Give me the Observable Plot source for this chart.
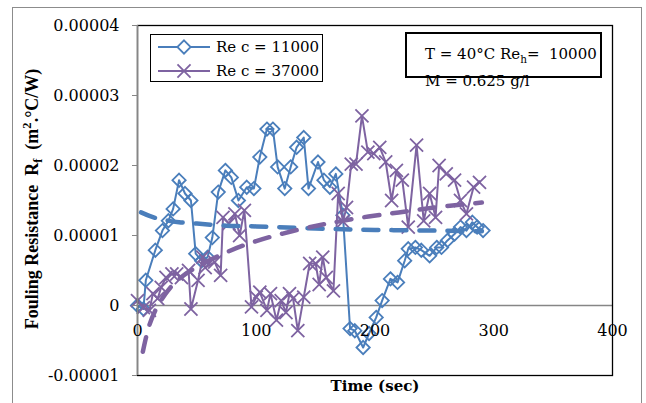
<!DOCTYPE html>
<html>
<head>
<meta charset="utf-8">
<script src="https://cdn.jsdelivr.net/npm/d3@7"></script>
<script src="https://cdn.jsdelivr.net/npm/@observablehq/plot@0.6"></script>
<style>
  html, body { margin: 0; padding: 0; background: #fff; }
  #wrap { position: relative; width: 646px; height: 403px; overflow: hidden; font-family: "DejaVu Serif", serif; }
  #outer { position: absolute; left: 12px; top: 7px; width: 630px; height: 420px; border: 1.5px solid #8c8c8c; box-sizing: border-box; pointer-events: none; }
  #ytitle { position: absolute; left: 33px; top: 199px; transform: translate(-50%, -50%) rotate(-90deg); white-space: nowrap; font-family: "Liberation Serif", serif; font-weight: bold; font-size: 18px; }
  #legend { position: absolute; left: 150px; top: 34px; width: 173px; height: 48px; border: 1.5px solid #000; box-sizing: border-box; background: #fff; }
  .lrow { position: absolute; left: 6px; height: 20px; display: flex; align-items: center; font-size: 15px; white-space: nowrap; }
  .lrow svg { margin-right: 5px; }
  #note { position: absolute; left: 405px; top: 32px; width: 197px; height: 46px; border: 2px solid #000; box-sizing: border-box; background: #fff; }
  .nline { position: absolute; left: 425px; font-size: 15px; white-space: nowrap; line-height: 1; }
  sub { font-size: 70%; }
</style>
</head>
<body>
<div id="wrap">
  <div id="chart"></div>
  <div id="outer"></div>
  <div id="ytitle">Fouling Resistance&nbsp; R<sub>f</sub>&nbsp; (m<sup style="font-size:70%">2</sup>.°C/W)</div>
  <div id="legend"></div>
  <div id="note"></div>
  <div class="nline" style="top:47px">T = 40°C Re<sub>h</sub>=&nbsp; 10000</div>
  <div class="nline" style="top:74px">M = 0.625 g/l</div>
</div>
<script>
// ---- Data ----
const seriesNames = ["Re c = 11000", "Re c = 37000"];

const blueTime = [0, 5, 7, 15, 21, 26, 30, 35, 40, 45, 49, 54, 59, 63, 68, 74, 79, 85, 92, 98,
  103, 109, 114, 118, 124, 129, 134, 140, 144, 152, 157, 162, 167, 173, 179, 183, 190, 195, 201, 206,
  213, 219, 225, 228, 234, 239, 246, 252, 256, 261, 267, 272, 277, 282, 286, 291];
const blueValue = [0, -0.05e-5, 0.36e-5, 0.79e-5, 1.07e-5, 1.21e-5, 1.38e-5, 1.79e-5, 1.6e-5, 1.5e-5,
  0.74e-5, 0.64e-5, 0.69e-5, 0.97e-5, 1.62e-5, 1.93e-5, 1.83e-5, 1.5e-5, 1.69e-5, 1.67e-5,
  2.12e-5, 2.52e-5, 2.52e-5, 1.98e-5, 1.67e-5, 1.98e-5, 2.26e-5, 2.4e-5, 1.67e-5, 2.05e-5,
  1.79e-5, 1.69e-5, 1.88e-5, 1.29e-5, -0.33e-5, -0.36e-5, -0.6e-5, -0.4e-5, -0.17e-5, 0.07e-5,
  0.38e-5, 0.33e-5, 0.64e-5, 0.81e-5, 0.83e-5, 0.79e-5, 0.71e-5, 0.83e-5, 0.83e-5, 0.93e-5,
  1.02e-5, 1.12e-5, 1.07e-5, 1.19e-5, 1.12e-5, 1.07e-5];

const purpleTime = [0, 5, 10, 13, 17, 20, 24, 29, 33, 37, 43, 45, 51, 55, 57, 65, 70, 72, 77, 82,
  86, 90, 96, 100, 103, 109, 112, 117, 121, 125, 128, 131, 135, 140, 145, 150, 153, 156, 159, 165,
  169, 173, 176, 180, 184, 189, 194, 199, 204, 209, 214, 218, 223, 228, 235, 241, 246, 251, 254, 260,
  267, 272, 277, 283, 288];
const purpleValue = [0.07e-5, -0.03e-5, -0.07e-5, 0.17e-5, 0.1e-5, 0.26e-5, 0.4e-5, 0.45e-5, 0.45e-5, 0.4e-5,
  0.5e-5, -0.05e-5, 0.36e-5, 0.69e-5, 0.54e-5, 0.62e-5, 0.43e-5, 1.26e-5, 1.17e-5, 1.31e-5,
  1.0e-5, 1.36e-5, -0.02e-5, 0.12e-5, 0.19e-5, -0.07e-5, 0.17e-5, -0.21e-5, 0.07e-5, -0.1e-5,
  0.17e-5, 0.1e-5, -0.36e-5, 0.12e-5, 0.6e-5, 0.6e-5, 0.3e-5, 0.69e-5, 0.4e-5, 0.21e-5,
  1.6e-5, 1.2e-5, 1.4e-5, 2.02e-5, 2.02e-5, 2.71e-5, 2.19e-5, 2.17e-5, 2.26e-5, 2.05e-5,
  1.5e-5, 1.93e-5, 1.79e-5, 1.12e-5, 2.29e-5, 1.21e-5, 1.6e-5, 1.26e-5, 2.0e-5, 1.88e-5,
  1.79e-5, 1.5e-5, 1.31e-5, 1.69e-5, 1.76e-5];

// trend lines
const blueTrendTime = [3, 10, 20, 35, 50, 75, 100, 150, 200, 250, 290];
const blueTrendValue = [1.33e-5, 1.28e-5, 1.23e-5, 1.19e-5, 1.17e-5, 1.14e-5, 1.13e-5, 1.10e-5, 1.08e-5, 1.07e-5, 1.06e-5];
const purpleTrendTime = [4.5, 8, 15, 30, 50, 75, 100, 130, 160, 190, 220, 250, 290];
const purpleTrendValue = [-0.66e-5, -0.4e-5, -0.07e-5, 0.3e-5, 0.55e-5, 0.76e-5, 0.92e-5, 1.06e-5, 1.17e-5, 1.26e-5, 1.33e-5, 1.40e-5, 1.47e-5];

const xTicks = [0, 100, 200, 300, 400];
const yTicks = [-0.00001, 0, 0.00001, 0.00002, 0.00003, 0.00004];
const yTickLabels = ["-0.00001", "0", "0.00001", "0.00002", "0.00003", "0.00004"];

// ---- Build ----
const BLUE = "#4A7EBB";
const PURPLE = "#7E63A1";
const GRAY = "#868686";
const zip = (ts, vs) => ts.map((t, i) => ({t, v: vs[i]}));
const blue = zip(blueTime, blueValue);
const purple = zip(purpleTime, purpleValue);
const blueTrend = zip(blueTrendTime, blueTrendValue);
const purpleTrend = zip(purpleTrendTime, purpleTrendValue);

const chart = Plot.plot({
  width: 646,
  height: 403,
  marginLeft: 137,
  marginRight: 34,
  marginTop: 25,
  marginBottom: 28,
  x: {domain: [0, 400], axis: null},
  y: {domain: [-0.00001, 0.00004], axis: null},
  style: {fontFamily: "DejaVu Serif", fontSize: "16px", background: "transparent", color: "#000"},
  marks: [
    Plot.ruleY([0], {stroke: GRAY, strokeWidth: 1.5}),
    Plot.line(blue, {x: "t", y: "v", stroke: BLUE, strokeWidth: 2}),
    Plot.dot(blue, {x: "t", y: "v", symbol: "diamond2", r: 6, stroke: BLUE, strokeWidth: 1.8, fill: "none"}),
    Plot.line(purple, {x: "t", y: "v", stroke: PURPLE, strokeWidth: 2}),
    Plot.dot(purple, {x: "t", y: "v", symbol: "times", r: 6, stroke: PURPLE, strokeWidth: 1.8}),
    Plot.line(blueTrend, {x: "t", y: "v", curve: "natural", stroke: BLUE, strokeWidth: 4.5, strokeDasharray: "15,13", strokeLinecap: "round"}),
    Plot.line(purpleTrend, {x: "t", y: "v", curve: "natural", stroke: PURPLE, strokeWidth: 4.5, strokeDasharray: "15,13", strokeLinecap: "round"}),
    Plot.frame({stroke: "#000", strokeWidth: 1.3}),
    Plot.ruleX([0], {stroke: GRAY, strokeWidth: 1.5}),
    Plot.axisY({ticks: yTicks, tickFormat: (d) => yTickLabels[yTicks.indexOf(d)], tickSize: 5, tickPadding: 13, stroke: GRAY, label: null, fontSize: 16}),
    Plot.text(xTicks, {x: (d) => d, y: () => 0, dy: 25, text: (d) => String(d), fontSize: 16}),
    Plot.text(["Time (sec)"], {frameAnchor: "bottom", dy: 15, fontWeight: "bold", fontSize: 15})
  ]
});
document.getElementById("chart").appendChild(chart);

// ---- Legend ----
const legend = document.getElementById("legend");
const legendItems = [
  {name: seriesNames[0], color: BLUE, symbol: d3.symbolDiamond2},
  {name: seriesNames[1], color: PURPLE, symbol: d3.symbolTimes}
];
legendItems.forEach((it, i) => {
  const row = document.createElement("div");
  row.className = "lrow";
  row.style.top = (i === 0 ? 2 : 26) + "px";
  const path = d3.symbol(it.symbol, Math.PI * 36)();
  row.innerHTML = `<svg width="54" height="20"><line x1="1" y1="10" x2="53" y2="10" stroke="${it.color}" stroke-width="2"/>` +
    `<path transform="translate(27,10)" d="${path}" fill="${it.symbol === d3.symbolDiamond2 ? "#fff" : "none"}" stroke="${it.color}" stroke-width="1.8"/></svg>` +
    `<span>${it.name}</span>`;
  legend.appendChild(row);
});
</script>
</body>
</html>
